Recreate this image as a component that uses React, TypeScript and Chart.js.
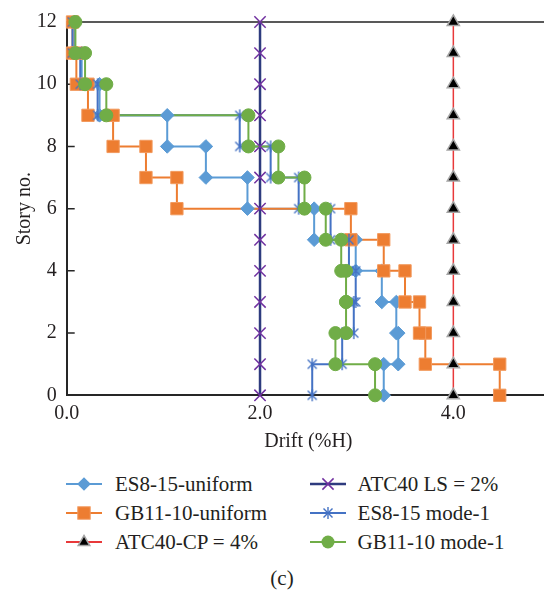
import React, { useEffect, useRef } from 'react';
import { Chart, registerables } from 'chart.js';

Chart.register(...registerables);

// ---------- data ----------
// Story levels (0 = base, 12 = roof)
const storeys = [0, 1, 2, 3, 4, 5, 6, 7, 8, 9, 10, 11, 12];
// Inter-story drift (%H) for each storey interval, from interval 0-1 up to 11-12
const es815Uniform = [3.28, 3.43, 3.41, 3.26, 2.99, 2.56, 1.87, 1.44, 1.04, 0.34, 0.155, 0.08];
const gb1110Uniform = [4.48, 3.71, 3.65, 3.5, 3.28, 2.94, 1.14, 0.82, 0.48, 0.22, 0.1, 0.06];
const es815Mode1 = [2.54, 2.85, 2.97, 2.99, 2.92, 2.73, 2.4, 2.11, 1.79, 0.32, 0.14, 0.06];
const gb1110Mode1 = [3.19, 2.78, 2.89, 2.89, 2.84, 2.68, 2.46, 2.19, 1.88, 0.41, 0.19, 0.09];
// Performance limits, one value per story level
const atc40CP = [4.0, 4.0, 4.0, 4.0, 4.0, 4.0, 4.0, 4.0, 4.0, 4.0, 4.0, 4.0, 4.0];
const atc40LS = [2.0, 2.0, 2.0, 2.0, 2.0, 2.0, 2.0, 2.0, 2.0, 2.0, 2.0, 2.0, 2.0];
// Axis ticks
const xTickValues = [0, 2, 4];
const yTickValues = [0, 2, 4, 6, 8, 10, 12];
const xMin = 0;
const xMax = 5;
const yMin = 0;
const yMax = 12;

// ---------- helpers ----------
type Pt = { x: number; y: number };

// Build a stepped drift profile: each interval drift is drawn as a vertical
// segment between two story levels, joined by horizontal segments.
function stepProfile(drifts: number[]): Pt[] {
  const pts: Pt[] = [];
  pts.push({ x: drifts[0], y: storeys[0] });
  for (let k = 1; k < storeys.length - 1; k++) {
    pts.push({ x: drifts[k - 1], y: storeys[k] });
    pts.push({ x: drifts[k], y: storeys[k] });
  }
  pts.push({ x: drifts[drifts.length - 1], y: storeys[storeys.length - 1] });
  return pts;
}

function limitLine(values: number[]): Pt[] {
  return values.map((v, i) => ({ x: v, y: storeys[i] }));
}

function makeStarCanvas(color: string): HTMLCanvasElement {
  const c = document.createElement('canvas');
  c.width = 14;
  c.height = 14;
  const g = c.getContext('2d')!;
  g.strokeStyle = color;
  g.lineWidth = 1.4;
  g.beginPath();
  g.moveTo(2.5, 2.5);
  g.lineTo(11.5, 11.5);
  g.moveTo(11.5, 2.5);
  g.lineTo(2.5, 11.5);
  g.moveTo(7, 1);
  g.lineTo(7, 13);
  g.stroke();
  return c;
}

const FONT = "'Liberation Serif', 'Times New Roman', serif";
const TEXT = '#231F20';

const C_ES_U = '#5B9BD5';
const C_GB_U = '#ED7D31';
const C_CP = '#E8393A';
const C_LS_LINE = '#2E3B7E';
const C_LS_MARK = '#7030A0';
const C_ES_M = '#4472C4';
const C_GB_M = '#70AD47';

const framePlugin = {
  id: 'frameTicks',
  beforeDatasetsDraw(chart: any) {
    const { ctx, chartArea, scales } = chart;
    ctx.save();
    ctx.strokeStyle = '#595959';
    ctx.lineWidth = 2;
    ctx.beginPath();
    ctx.moveTo(chartArea.left, chartArea.top);
    ctx.lineTo(chartArea.right + 20, chartArea.top);
    ctx.stroke();
    ctx.strokeStyle = '#262626';
    ctx.lineWidth = 1.5;
    ctx.beginPath();
    for (const v of yTickValues) {
      if (v === yMin || v === yMax) continue;
      const y = scales.y.getPixelForValue(v);
      ctx.moveTo(chartArea.left, y);
      ctx.lineTo(chartArea.left + 8, y);
    }
    ctx.stroke();
    ctx.restore();
  },
};

function ChartCanvas() {
  const ref = useRef<HTMLCanvasElement | null>(null);
  useEffect(() => {
    if (!ref.current) return;
    const star = makeStarCanvas(C_ES_M);
    const series = [
      // marker order: lower = on top
      { pts: stepProfile(gb1110Mode1), color: C_GB_M, lw: 2, style: 'circle', r: 6.5, bg: C_GB_M, bc: C_GB_M, bw: 1, order: 0 },
      { pts: stepProfile(es815Mode1), color: C_ES_M, lw: 2, style: star, r: 7, bg: C_ES_M, bc: C_ES_M, bw: 1, order: 1 },
      { pts: limitLine(atc40LS), color: C_LS_LINE, lw: 2.5, style: 'crossRot', r: 8, bg: C_LS_MARK, bc: C_LS_MARK, bw: 1.5, order: 2 },
      { pts: limitLine(atc40CP), color: C_CP, lw: 1.5, style: 'triangle', r: 7, bg: '#000000', bc: '#A5A5A5', bw: 1.5, order: 3 },
      { pts: stepProfile(gb1110Uniform), color: C_GB_U, lw: 2, style: 'rect', r: 8.7, bg: C_GB_U, bc: '#F29A5E', bw: 1, order: 4 },
      { pts: stepProfile(es815Uniform), color: C_ES_U, lw: 2, style: 'rectRot', r: 6.8, bg: C_ES_U, bc: C_ES_U, bw: 1, order: 5 },
    ];
    const datasets: any[] = [];
    for (const s of series) {
      datasets.push({
        data: s.pts,
        showLine: true,
        borderColor: s.color,
        borderWidth: s.lw,
        pointRadius: 0,
        pointHoverRadius: 0,
        order: 10 + s.order,
        clip: false,
      });
      datasets.push({
        data: s.pts,
        showLine: false,
        pointStyle: s.style,
        pointRadius: s.r,
        pointHoverRadius: s.r,
        pointBackgroundColor: s.bg,
        pointBorderColor: s.bc,
        pointBorderWidth: s.bw,
        order: s.order,
        clip: false,
      });
    }
    const chart = new Chart(ref.current, {
      type: 'scatter',
      data: { datasets },
      options: {
        animation: false,
        responsive: false,
        devicePixelRatio: 1,
        events: [],
        layout: { padding: { left: 0, right: 10, top: 15, bottom: 6 } },
        plugins: { legend: { display: false }, tooltip: { enabled: false }, title: { display: false } },
        scales: {
          x: {
            type: 'linear',
            min: xMin,
            max: xMax,
            afterBuildTicks: (scale: any) => {
              scale.ticks = xTickValues.map((v) => ({ value: v }));
            },
            afterFit: (scale: any) => {
              scale.height = 58.7;
            },
            grid: { display: false, drawTicks: false },
            border: { display: true, color: '#262626', width: 2 },
            ticks: {
              padding: 6,
              color: TEXT,
              font: { family: FONT, size: 20 },
              callback: (v: any) => Number(v).toFixed(1),
            },
            title: {
              display: true,
              text: 'Drift (%H)',
              color: TEXT,
              font: { family: FONT, size: 20 },
              padding: { top: 0, bottom: 0 },
            },
          },
          y: {
            type: 'linear',
            min: yMin,
            max: yMax,
            afterBuildTicks: (scale: any) => {
              scale.ticks = yTickValues.map((v) => ({ value: v }));
            },
            afterFit: (scale: any) => {
              scale.width = 66.7;
            },
            grid: { display: false, drawTicks: false },
            border: { display: true, color: '#262626', width: 2 },
            ticks: {
              padding: 10,
              color: TEXT,
              font: { family: FONT, size: 20 },
              callback: (v: any) => String(v),
            },
            title: {
              display: true,
              text: 'Story no.',
              color: TEXT,
              font: { family: FONT, size: 20 },
              padding: { top: 13, bottom: 0 },
            },
          },
        },
      },
      plugins: [framePlugin],
    } as any);
    return () => chart.destroy();
  }, []);
  return <canvas ref={ref} width={560} height={460} style={{ position: 'absolute', left: 0, top: 0, width: 560, height: 460 }} />;
}

type LegendItem = { label: string; color: string; marker: string; col: number; row: number };
const legendItems: LegendItem[] = [
  { label: 'ES8-15-uniform', color: C_ES_U, marker: 'diamond', col: 0, row: 0 },
  { label: 'GB11-10-uniform', color: C_GB_U, marker: 'square', col: 0, row: 1 },
  { label: 'ATC40-CP = 4%', color: C_CP, marker: 'triangle', col: 0, row: 2 },
  { label: 'ATC40 LS = 2%', color: C_LS_LINE, marker: 'x', col: 1, row: 0 },
  { label: 'ES8-15 mode-1', color: C_ES_M, marker: 'star', col: 1, row: 1 },
  { label: 'GB11-10 mode-1', color: C_GB_M, marker: 'circle', col: 1, row: 2 },
];
const rowY = [483.8, 513, 542.2];
const colLine = [66, 309.5];
const colText = [115, 357.6];

function Marker({ kind }: { kind: string }) {
  const cx = 18;
  const cy = 10;
  switch (kind) {
    case 'diamond':
      return <polygon points={`${cx - 6.8},${cy} ${cx},${cy - 6.8} ${cx + 6.8},${cy} ${cx},${cy + 6.8}`} fill={C_ES_U} />;
    case 'square':
      return <rect x={cx - 6.2} y={cy - 6.2} width={12.4} height={12.4} fill={C_GB_U} stroke="#F29A5E" strokeWidth={1} />;
    case 'triangle':
      return <polygon points={`${cx},${cy - 6.5} ${cx + 5.8},${cy + 3.5} ${cx - 5.8},${cy + 3.5}`} fill="#000" stroke="#A5A5A5" strokeWidth={1.5} />;
    case 'x':
      return (
        <g stroke={C_LS_MARK} strokeWidth={1.5}>
          <line x1={cx - 5.6} y1={cy - 5.6} x2={cx + 5.6} y2={cy + 5.6} />
          <line x1={cx + 5.6} y1={cy - 5.6} x2={cx - 5.6} y2={cy + 5.6} />
        </g>
      );
    case 'star':
      return (
        <g stroke={C_ES_M} strokeWidth={1.4}>
          <line x1={cx - 4.5} y1={cy - 4.5} x2={cx + 4.5} y2={cy + 4.5} />
          <line x1={cx + 4.5} y1={cy - 4.5} x2={cx - 4.5} y2={cy + 4.5} />
          <line x1={cx} y1={cy - 6} x2={cx} y2={cy + 6} />
        </g>
      );
    default:
      return <circle cx={cx} cy={cy} r={6.5} fill={C_GB_M} />;
  }
}

function Legend() {
  return (
    <>
      {legendItems.map((it) => (
        <React.Fragment key={it.label}>
          <svg
            width={36}
            height={20}
            style={{ position: 'absolute', left: colLine[it.col], top: rowY[it.row] - 10 }}
          >
            <line x1={0} y1={10} x2={36} y2={10} stroke={it.color} strokeWidth={it.marker === 'x' ? 2.5 : 2} />
            <Marker kind={it.marker} />
          </svg>
          <div
            style={{
              position: 'absolute',
              left: colText[it.col],
              top: rowY[it.row] - 12,
              height: 24,
              lineHeight: '24px',
              fontFamily: FONT,
              fontSize: 21,
              color: TEXT,
              whiteSpace: 'nowrap',
            }}
          >
            {it.label}
          </div>
        </React.Fragment>
      ))}
      <div
        style={{
          position: 'absolute',
          left: 232,
          width: 100,
          textAlign: 'center',
          top: 566,
          height: 24,
          lineHeight: '24px',
          fontFamily: FONT,
          fontSize: 21,
          color: TEXT,
        }}
      >
        (c)
      </div>
    </>
  );
}

export default function App() {
  return (
    <div
      style={{
        position: 'fixed',
        left: 0,
        top: 0,
        width: 544,
        height: 593,
        overflow: 'hidden',
        background: '#ffffff',
      }}
    >
      <ChartCanvas />
      <Legend />
    </div>
  );
}
